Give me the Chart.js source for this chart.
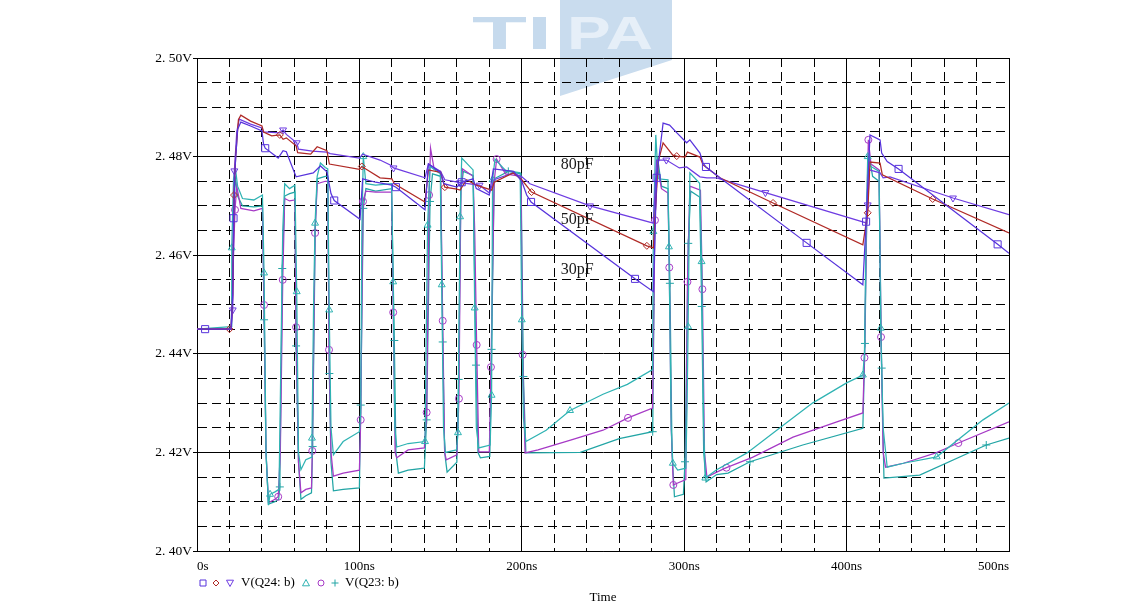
<!DOCTYPE html>
<html>
<head>
<meta charset="utf-8">
<script src="https://cdn.jsdelivr.net/npm/chart.js@4.4.1/dist/chart.umd.min.js"></script>
<style>
  html, body { margin: 0; padding: 0; background: #fff; }
  #wrap { position: relative; width: 1145px; height: 613px; }
  #wm, #chart { position: absolute; left: 0; top: 0; }
</style>
</head>
<body>
<div id="wrap">
  <svg id="wm" width="1145" height="613">
    <polygon points="560,0 672,0 672,60 560,96" fill="#c9dcee"/>
    <text x="472" y="49" font-family="Liberation Sans" font-weight="bold" font-size="46" fill="#c6daed" textLength="80" lengthAdjust="spacingAndGlyphs">TI</text>
    <text x="567" y="49" font-family="Liberation Sans" font-weight="bold" font-size="46" fill="#e6eff8" textLength="86" lengthAdjust="spacingAndGlyphs">PA</text>
  </svg>
  <canvas id="chart" width="1145" height="613"></canvas>
</div>
<script>
// V(Q24:b), 30pF (square markers)
const sqT = [0, 5, 21, 22, 22.5, 23.5, 25, 27, 33, 40, 41, 42, 50, 53, 55, 61, 71.6, 76, 80, 82.5, 84.5, 100.4, 102, 110, 120, 122.5, 140.4, 142.5, 150, 152, 160, 163, 170, 172, 180, 182.5, 195, 200, 203, 205.7, 269.7, 281, 283, 287, 291, 295.5, 301.5, 303.5, 309.7, 311.6, 313.4, 322, 375.4, 410, 412, 414.4, 420.6, 421.6, 425, 432, 493, 500];
const sqV = [2.445, 2.445, 2.445, 2.452, 2.4675, 2.478, 2.4855, 2.487, 2.4862, 2.4852, 2.4825, 2.4817, 2.4797, 2.4812, 2.481, 2.4759, 2.4767, 2.4781, 2.4769, 2.4725, 2.4711, 2.4673, 2.4755, 2.4748, 2.4742, 2.4738, 2.4692, 2.4785, 2.4768, 2.4745, 2.4738, 2.4748, 2.4755, 2.4735, 2.4722, 2.4775, 2.477, 2.475, 2.4722, 2.4708, 2.4552, 2.4526, 2.4757, 2.4868, 2.4864, 2.4848, 2.4828, 2.4834, 2.4807, 2.4787, 2.4779, 2.4757, 2.4625, 2.454, 2.4668, 2.4844, 2.4834, 2.4807, 2.479, 2.4775, 2.4622, 2.4604];
const sqMarks = [5, 22.5, 42, 84.5, 122.5, 163, 205.7, 269.7, 283, 313.4, 375.4, 412, 432, 493];

// V(Q24:b), 50pF (diamond markers)
const dmT = [0, 20, 21, 22, 22.8, 23.8, 25.5, 27, 33, 40, 41, 46, 51, 53, 55, 61, 62, 70, 74, 80, 81.5, 100, 101.5, 112.7, 120, 121.5, 140.4, 142.5, 150, 152.6, 160, 162, 166, 172, 181.5, 183, 194.6, 200, 206, 277, 281, 284, 287, 293, 295.4, 300.5, 302, 309.7, 311.6, 322, 354.7, 410, 413, 414.4, 420.6, 422, 453, 500];
const dmV = [2.445, 2.445, 2.445, 2.452, 2.4722, 2.48, 2.4875, 2.4884, 2.4872, 2.4862, 2.485, 2.4842, 2.4844, 2.4835, 2.4838, 2.4822, 2.4808, 2.4805, 2.482, 2.4812, 2.4785, 2.4774, 2.478, 2.4757, 2.4755, 2.4745, 2.4708, 2.4773, 2.4768, 2.4738, 2.4734, 2.4732, 2.4753, 2.4742, 2.4732, 2.4748, 2.4767, 2.4753, 2.4728, 2.4619, 2.4615, 2.479, 2.4828, 2.4803, 2.4801, 2.4799, 2.4809, 2.4799, 2.4783, 2.4757, 2.4706, 2.4621, 2.4686, 2.4789, 2.4787, 2.4763, 2.4714, 2.4645];
const dmMarks = [20, 22.8, 51, 101.5, 152.6, 206, 277, 295.4, 354.7, 413, 453];

// V(Q24:b), 80pF (triangle-down markers)
const trT = [0, 21, 22, 23, 24.5, 26, 33, 40, 41, 51, 53, 55, 61.4, 62.5, 71, 80, 82, 100, 102, 112.7, 119, 121, 140.4, 142.5, 150, 152.6, 162, 174, 180, 183, 194.6, 200, 205, 242, 281, 283, 289, 297, 301.5, 309.7, 314, 320, 350, 412.5, 413, 414, 420.6, 422.5, 426.7, 465.5, 500];
const trV = [2.445, 2.445, 2.4489, 2.4771, 2.485, 2.4876, 2.4866, 2.4858, 2.485, 2.4848, 2.4854, 2.4845, 2.4828, 2.4815, 2.4811, 2.4809, 2.4806, 2.4797, 2.4805, 2.4793, 2.4783, 2.4777, 2.4757, 2.4785, 2.477, 2.4753, 2.4747, 2.4742, 2.4726, 2.4753, 2.4767, 2.4759, 2.4745, 2.47, 2.4665, 2.4793, 2.4793, 2.4777, 2.4779, 2.4759, 2.4757, 2.4757, 2.4727, 2.4665, 2.4702, 2.4773, 2.4767, 2.4757, 2.4759, 2.4716, 2.4682];
const trMarks = [22, 23, 53, 61.4, 121, 162, 174, 242, 289, 350, 413, 465.5];

// V(Q23:b), triangle-up markers
const aT = [0, 21, 21.4, 22.5, 23.5, 25, 28, 35, 40.3, 41.3, 42.5, 44, 45, 48, 50.5, 51.5, 52.8, 54, 57, 60.3, 61.4, 62.5, 64, 67, 70.3, 70.8, 71.8, 72.7, 74, 76, 79, 80.5, 81.4, 82.5, 84, 90, 100, 100.8, 101.5, 102.4, 104, 110, 119.8, 120.8, 121.8, 123, 130, 140.4, 141.2, 142, 143.5, 149.8, 150.7, 151.8, 153, 159.8, 160.7, 161.3, 162, 163, 170, 171, 172, 173.5, 180.5, 181.4, 182, 183.5, 190, 199, 200, 201, 202.5, 215, 229.7, 250, 265, 280.5, 281, 282.5, 284, 290, 290.6, 292, 293, 296, 301, 301.8, 302.4, 303.5, 309.5, 310.7, 312, 313, 320, 338.7, 363, 379, 400, 410, 411, 412, 413, 415, 420, 421, 422.5, 425, 435, 455.5, 484, 500];
const aV = [2.445, 2.4455, 2.4615, 2.4755, 2.478, 2.474, 2.4715, 2.4712, 2.4722, 2.4564, 2.42, 2.4093, 2.4115, 2.412, 2.4125, 2.435, 2.465, 2.4745, 2.4735, 2.4742, 2.4526, 2.42, 2.4165, 2.4185, 2.419, 2.4229, 2.45, 2.4665, 2.476, 2.4787, 2.4778, 2.4775, 2.4489, 2.425, 2.4195, 2.4222, 2.4242, 2.428, 2.465, 2.48, 2.4745, 2.4742, 2.4745, 2.4546, 2.425, 2.4211, 2.4218, 2.4222, 2.445, 2.4661, 2.478, 2.4765, 2.454, 2.425, 2.42, 2.4205, 2.424, 2.445, 2.4678, 2.4797, 2.4773, 2.4493, 2.425, 2.4209, 2.4215, 2.4316, 2.4753, 2.4795, 2.4772, 2.4767, 2.4469, 2.427, 2.4222, 2.4245, 2.4285, 2.4318, 2.4338, 2.4368, 2.4648, 2.4844, 2.4755, 2.4753, 2.4617, 2.425, 2.4178, 2.4164, 2.4168, 2.43, 2.4455, 2.4767, 2.4746, 2.4587, 2.425, 2.4148, 2.4165, 2.4199, 2.426, 2.43, 2.4341, 2.4357, 2.44, 2.465, 2.48, 2.478, 2.477, 2.4452, 2.425, 2.417, 2.4178, 2.4191, 2.4266, 2.43];
const aMarks = [21.4, 41.3, 45, 61.4, 70.8, 72.7, 81.4, 102.4, 120.8, 140.4, 142, 150.7, 160.7, 162, 171, 181.4, 182, 200, 229.7, 281, 290.6, 293, 302.4, 310.7, 313, 410, 413, 421, 455.5];

// V(Q23:b), circle markers
const bT = [0, 21, 22, 23.4, 24.5, 27, 35, 40.3, 41.3, 42.5, 44, 48, 50, 51.3, 52.8, 54, 57, 60.3, 61, 62.5, 64, 67, 70.5, 71, 72.7, 74, 79, 80.5, 81.3, 82.5, 84, 90, 100, 100.8, 102.2, 104, 110, 119.8, 120.8, 122, 123, 130, 140, 141.4, 142.9, 143.8, 146, 150, 151.3, 152.5, 153.5, 160, 161.3, 162.5, 163.5, 170, 171, 172.2, 173.5, 180, 181, 183, 184.5, 190, 199.5, 200.5, 202, 210, 230, 250, 265.4, 280.5, 282, 283.5, 286, 290, 290.8, 292, 293.3, 296, 301, 302, 303.5, 310, 311.2, 312.5, 314, 320, 326, 342, 367, 394, 410, 411, 412.5, 413.4, 415, 420, 421.2, 422.5, 424, 435, 455, 468.8, 500];
const bV = [2.445, 2.445, 2.455, 2.4692, 2.474, 2.4695, 2.469, 2.4695, 2.4499, 2.42, 2.4098, 2.4105, 2.411, 2.42, 2.455, 2.4715, 2.471, 2.4712, 2.4454, 2.418, 2.4118, 2.4125, 2.4128, 2.4203, 2.4645, 2.4745, 2.475, 2.475, 2.4408, 2.42, 2.4152, 2.4158, 2.4164, 2.4266, 2.4709, 2.473, 2.4728, 2.4728, 2.4484, 2.42, 2.4189, 2.4205, 2.4209, 2.4281, 2.4722, 2.4817, 2.4775, 2.477, 2.4467, 2.42, 2.4185, 2.4195, 2.4309, 2.474, 2.4775, 2.476, 2.465, 2.4418, 2.4201, 2.4201, 2.4373, 2.475, 2.4795, 2.4765, 2.476, 2.4398, 2.4199, 2.4205, 2.4225, 2.4245, 2.427, 2.429, 2.4671, 2.478, 2.4735, 2.4726, 2.4575, 2.425, 2.4134, 2.4138, 2.4145, 2.4546, 2.474, 2.4732, 2.4531, 2.42, 2.415, 2.416, 2.4169, 2.419, 2.4231, 2.4262, 2.428, 2.4392, 2.47, 2.4834, 2.4785, 2.4773, 2.4434, 2.42, 2.417, 2.4178, 2.4199, 2.4219, 2.4262];
const bMarks = [23.4, 41.3, 50, 52.8, 61, 71, 72.7, 81.3, 100.8, 102.2, 120.8, 141.4, 142.9, 151.3, 161.3, 172.2, 181, 184.5, 200.5, 265.4, 282, 290.8, 293.3, 302, 311.2, 326, 411, 413.4, 421.2, 468.8];

// V(Q23:b), plus markers
const cT = [0, 21, 22, 23.5, 25, 28, 35, 40.3, 41.3, 42.5, 44, 48, 50.3, 51, 52.5, 54, 57, 60.3, 61, 62.5, 64, 67, 70.5, 71.2, 72.8, 74, 79, 80.5, 81.5, 82.5, 84, 90, 100, 100.8, 102.4, 104, 110, 119.8, 121.5, 122.5, 124, 130, 140, 141.4, 143.5, 145, 150, 151.3, 152.5, 154, 160, 161.1, 162.5, 164, 170, 171.8, 173, 174.5, 180.3, 181.4, 183, 191.7, 199.5, 201, 202.5, 236, 260, 280.6, 282, 283.5, 286, 290, 291.2, 292.5, 294, 299.5, 300.5, 302.5, 304, 309.5, 310.8, 312, 313.5, 320, 327, 340.5, 373, 410, 411.3, 412.5, 414, 416, 420, 421.6, 423, 445, 486, 500];
const cV = [2.445, 2.445, 2.458, 2.476, 2.472, 2.47, 2.4698, 2.47, 2.4469, 2.42, 2.4095, 2.41, 2.4105, 2.413, 2.4573, 2.472, 2.4725, 2.4728, 2.4416, 2.418, 2.4105, 2.4112, 2.4118, 2.4212, 2.465, 2.4755, 2.476, 2.476, 2.436, 2.418, 2.4122, 2.4125, 2.4128, 2.4296, 2.4695, 2.4735, 2.473, 2.4735, 2.4427, 2.42, 2.4158, 2.4164, 2.4168, 2.4266, 2.4709, 2.4765, 2.476, 2.4424, 2.42, 2.416, 2.418, 2.4348, 2.473, 2.477, 2.4762, 2.4377, 2.42, 2.4189, 2.4192, 2.4409, 2.4755, 2.477, 2.4765, 2.4354, 2.4199, 2.42, 2.4228, 2.4242, 2.47, 2.48, 2.474, 2.4735, 2.4543, 2.42, 2.411, 2.4115, 2.4181, 2.4624, 2.473, 2.4718, 2.4496, 2.42, 2.414, 2.4155, 2.4158, 2.4181, 2.4215, 2.4249, 2.4421, 2.47, 2.48, 2.476, 2.475, 2.4371, 2.4148, 2.4154, 2.4215, 2.4229];
const cMarks = [41.3, 51, 52.5, 61, 71.2, 81.5, 100.8, 102.4, 121.5, 141.4, 143.5, 151.3, 161.1, 171.8, 181.4, 191.7, 201, 280.6, 291.2, 300.5, 302.5, 310.8, 340.5, 411.3, 421.6, 486];

// capacitor annotations
const capText = ['80pF', '50pF', '30pF'];
const capT = [224, 224, 224];
const capV = [2.4783, 2.4671, 2.457];

const colSq = '#5733dc', colDm = '#b02a26', colTr = '#6e3ce2';
const colA = '#2fb3b3', colB = '#a63ac6', colC = '#22a5a5';

function isMajorV(v) { return Math.abs(v * 50 - Math.round(v * 50)) < 1e-6; }

function series(label, t, v, marks, color, style, radius, rotation) {
  return {
    label: label,
    data: t.map((tt, i) => ({ x: tt, y: v[i] })),
    borderColor: color,
    borderWidth: 1.25,
    backgroundColor: 'rgba(0,0,0,0)',
    fill: false,
    tension: 0,
    pointStyle: style,
    pointRotation: rotation || 0,
    pointRadius: c => (c.raw && marks.includes(c.raw.x)) ? radius : 0,
    pointBorderColor: color,
    pointBackgroundColor: 'rgba(0,0,0,0)',
    pointBorderWidth: 1
  };
}

// small outline symbols for the legend row
function symbol(ctx, style, cx, cy, r, color) {
  ctx.strokeStyle = color;
  ctx.lineWidth = 1;
  ctx.beginPath();
  if (style === 'rect') {
    ctx.rect(cx - r, cy - r, 2 * r, 2 * r);
  } else if (style === 'diamond') {
    ctx.moveTo(cx, cy - r); ctx.lineTo(cx + r, cy); ctx.lineTo(cx, cy + r); ctx.lineTo(cx - r, cy); ctx.closePath();
  } else if (style === 'down') {
    ctx.moveTo(cx - r, cy - r * 0.8); ctx.lineTo(cx + r, cy - r * 0.8); ctx.lineTo(cx, cy + r); ctx.closePath();
  } else if (style === 'up') {
    ctx.moveTo(cx - r, cy + r * 0.8); ctx.lineTo(cx + r, cy + r * 0.8); ctx.lineTo(cx, cy - r); ctx.closePath();
  } else if (style === 'circle') {
    ctx.arc(cx, cy, r, 0, Math.PI * 2);
  } else if (style === 'plus') {
    ctx.moveTo(cx - r, cy); ctx.lineTo(cx + r, cy); ctx.moveTo(cx, cy - r); ctx.lineTo(cx, cy + r);
  }
  ctx.stroke();
}

const overlay = {
  id: 'overlay',
  afterDatasetsDraw(chart) {
    const ctx = chart.ctx;
    const x = chart.scales.x, y = chart.scales.y;
    ctx.save();
    ctx.fillStyle = '#1a1a1a';
    ctx.font = '16px "Liberation Serif"';
    ctx.textBaseline = 'middle';
    ctx.textAlign = 'left';
    for (let i = 0; i < capText.length; i++) {
      ctx.fillText(capText[i], x.getPixelForValue(capT[i]), y.getPixelForValue(capV[i]));
    }
    // legend row
    const ly = 583;
    symbol(ctx, 'rect', 203, ly, 3, colSq);
    symbol(ctx, 'diamond', 216, ly, 3, colDm);
    symbol(ctx, 'down', 230, ly, 3.5, colTr);
    symbol(ctx, 'up', 306, ly, 3.5, colA);
    symbol(ctx, 'circle', 321, ly, 3, colB);
    symbol(ctx, 'plus', 335, ly, 3.5, colC);
    ctx.fillStyle = '#000';
    ctx.font = '13px "Liberation Serif"';
    ctx.fillText('V(Q24: b)', 241, ly);
    ctx.fillText('V(Q23: b)', 345, ly);
    ctx.restore();
  }
};

const serif = { family: '"Liberation Serif", serif', size: 13 };

new Chart(document.getElementById('chart').getContext('2d'), {
  type: 'line',
  data: {
    datasets: [
      series('30pF', sqT, sqV, sqMarks, colSq, 'rect', 5),
      series('50pF', dmT, dmV, dmMarks, colDm, 'rectRot', 3.5),
      series('80pF', trT, trV, trMarks, colTr, 'triangle', 4, 180),
      series('Q23 a', aT, aV, aMarks, colA, 'triangle', 4),
      series('Q23 b', bT, bV, bMarks, colB, 'circle', 3.5),
      series('Q23 c', cT, cV, cMarks, colC, 'cross', 4)
    ]
  },
  options: {
    responsive: false,
    animation: false,
    devicePixelRatio: 1,
    layout: { padding: { left: 0, right: 136, top: 58, bottom: 0 } },
    plugins: { legend: { display: false }, tooltip: { enabled: false } },
    scales: {
      x: {
        type: 'linear',
        min: 0,
        max: 500,
        afterFit: s => { s.height = 62; },
        ticks: {
          stepSize: 20,
          autoSkip: false,
          maxRotation: 0,
          align: 'inner',
          padding: 8,
          color: '#000',
          font: serif,
          callback: v => v % 100 === 0 ? (v === 0 ? '0s' : v + 'ns') : ''
        },
        grid: { color: '#000', lineWidth: 1, drawTicks: false },
        border: { color: '#000', dash: c => (c.tick && c.tick.value % 100 !== 0) ? [9, 5] : [] },
        title: { display: true, text: 'Time', color: '#000', font: serif, padding: { top: 0, bottom: 8 } }
      },
      y: {
        type: 'linear',
        min: 2.40,
        max: 2.50,
        afterFit: s => { s.width = 197; },
        ticks: {
          stepSize: 0.005,
          autoSkip: false,
          padding: 1,
          color: '#000',
          font: { family: '"Liberation Serif", serif', size: 13.5 },
          callback: v => isMajorV(v) ? v.toFixed(2).replace('.', '. ') + 'V' : ''
        },
        grid: {
          color: '#000',
          lineWidth: 1,
          tickLength: 4,
          tickColor: c => (c.tick && isMajorV(c.tick.value)) ? '#000' : 'rgba(0,0,0,0)'
        },
        border: { color: '#000', dash: c => (c.tick && !isMajorV(c.tick.value)) ? [9, 5] : [] }
      }
    }
  },
  plugins: [overlay]
});
</script>
</body>
</html>
